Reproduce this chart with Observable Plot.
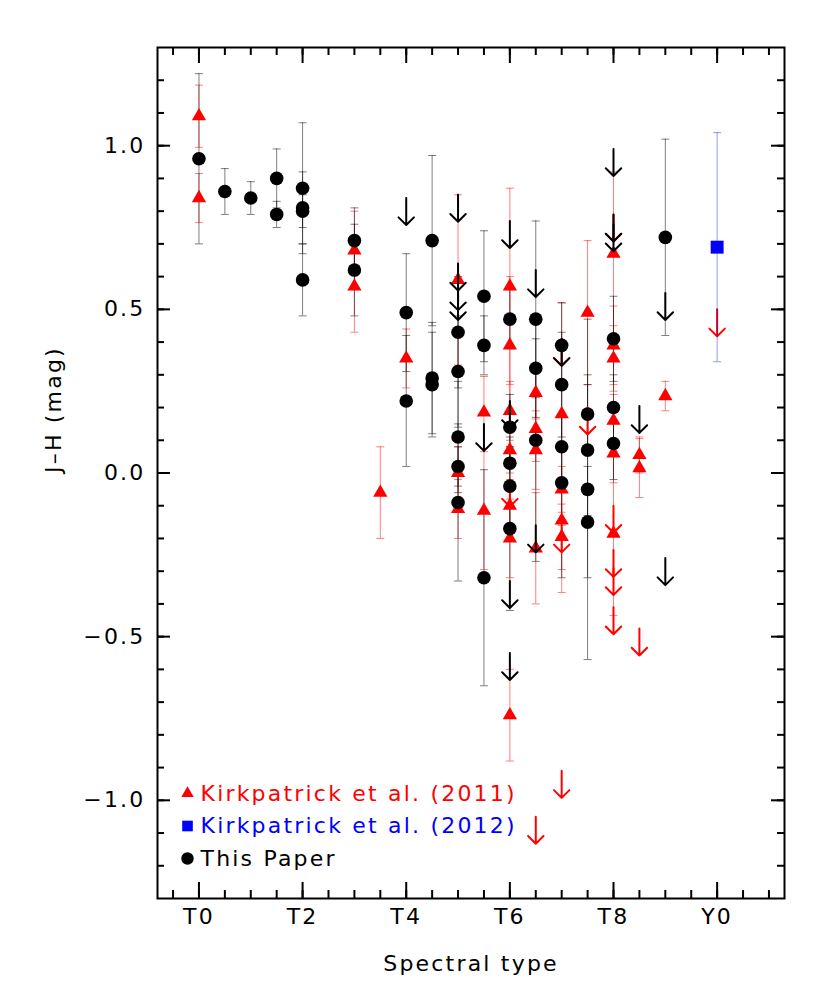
<!DOCTYPE html>
<html><head><meta charset="utf-8">
<script src="https://cdn.jsdelivr.net/npm/d3@7"></script>
<script src="https://cdn.jsdelivr.net/npm/@observablehq/plot@0.6"></script>
<style>body{margin:0;background:#fff}</style>
</head><body><div id="chart"></div>
<script>
// Axis tick values and labels
const xTickValues = [0, 2, 4, 6, 8, 10];
const xTickLabels = ["T0", "T2", "T4", "T6", "T8", "Y0"];
const yTickValues = [-1, -0.5, 0, 0.5, 1];
const yTickLabels = ["\u22121.0", "\u22120.5", "0.0", "0.5", "1.0"];

// This Paper (black circles): spectral type (T0 = 0, Y0 = 10), J-H, error
const tpType = [0, 0.5, 1, 1.5, 1.5, 2, 2, 2, 2, 3, 3, 4, 4, 4.5, 4.5, 4.5,
  5, 5, 5, 5, 5, 5.5, 5.5, 5.5, 6, 6, 6, 6, 6, 6.5, 6.5, 6.5,
  7, 7, 7, 7, 7.5, 7.5, 7.5, 7.5, 8, 8, 8, 9];
const tpJH = [0.96, 0.86, 0.84, 0.90, 0.79, 0.87, 0.81, 0.80, 0.59, 0.71, 0.62, 0.49, 0.22, 0.71, 0.29, 0.27,
  0.43, 0.31, 0.11, 0.02, -0.09, 0.54, 0.39, -0.32, 0.47, 0.14, 0.03, -0.04, -0.17, 0.47, 0.32, 0.10,
  0.39, 0.27, 0.08, -0.03, 0.18, 0.07, -0.05, -0.15, 0.41, 0.20, 0.09, 0.72];
const tpErr = [0.26, 0.07, 0.05, 0.09, 0.04, 0.20, 0.11, 0.05, 0.11, 0.10, 0.14, 0.18, 0.20, 0.26, 0.17, 0.16,
  0.17, 0.17, 0.17, 0.06, 0.24, 0.20, 0.09, 0.33, 0.09, 0.10, 0.08, 0.12, 0.25, 0.30, 0.09, 0.37,
  0.13, 0.16, 0.10, 0.29, 0.12, 0.20, 0.52, 0.17, 0.13, 0.10, 0.11, 0.30];

// This Paper upper limits (black arrows)
const tpLimType = [4, 5, 5, 5, 5, 5.5, 6, 6, 6, 6, 6.5, 6.5, 7, 8, 8, 8, 8.5, 9, 9];
const tpLimJH = [0.84, 0.85, 0.64, 0.58, 0.55, 0.15, 0.77, 0.22, -0.33, -0.55, 0.62, -0.16, 0.41, 0.99, 0.79, 0.76, 0.205, 0.55, -0.26];

// Kirkpatrick et al. (2011) (red triangles)
const k11Type = [0, 0, 3, 3, 3.5, 4, 5, 5, 5, 5.5, 5.5,
  6, 6, 6, 6, 6, 6, 6, 6.5, 6.5, 6.5, 6.5, 7, 7, 7, 7, 7.5,
  8, 8, 8, 8, 8, 8, 8.5, 8.5, 9];
const k11JH = [1.09, 0.84, 0.68, 0.57, -0.06, 0.35, 0.59, 0.00, -0.11, 0.185, -0.115,
  0.57, 0.39, 0.19, 0.07, -0.10, -0.20, -0.74, 0.245, 0.135, 0.07, -0.23, 0.18, -0.05, -0.145, -0.195, 0.49,
  0.67, 0.39, 0.35, 0.16, 0.06, -0.185, 0.055, 0.015, 0.235];
const k11Err = [0.095, 0.075, 0.12, 0.14, 0.14, 0.09, 0.26, 0.08, 0.09, 0.11, 0.18,
  0.30, 0.21, 0.09, 0.07, 0.08, 0.12, 0.14, 0.08, 0.10, 0.12, 0.17, 0.34, 0.07, 0.22, 0.10, 0.22,
  0.25, 0.12, 0.10, 0.08, 0.09, 0.25, 0.055, 0.09, 0.045];

// Kirkpatrick et al. (2011) upper limits (red arrows)
const k11LimType = [6, 6.5, 7, 7, 7, 7.5, 8, 8, 8, 8, 8, 8.5, 10];
const k11LimJH = [-0.02, -1.05, 0.41, -0.16, -0.91, 0.20, 0.79, -0.10, -0.235, -0.29, -0.41, -0.475, 0.50];

// Kirkpatrick et al. (2012) (blue square)
const k12Type = [10];
const k12JH = [0.69];
const k12Err = [0.35];

// Legend
const legendLabels = ["Kirkpatrick et al. (2011)", "Kirkpatrick et al. (2012)", "This Paper"];
const legendColors = ["#ff0000", "#0000ff", "#000000"];
const legendSymbols = ["triangle", "square", "circle"];

const tp = tpType.map((t, i) => ({t, v: tpJH[i], e: tpErr[i]}));
const tpLim = tpLimType.map((t, i) => ({t, v: tpLimJH[i]}));
const k11 = k11Type.map((t, i) => ({t, v: k11JH[i], e: k11Err[i]}));
const k11Lim = k11LimType.map((t, i) => ({t, v: k11LimJH[i]}));
const k12 = k12Type.map((t, i) => ({t, v: k12JH[i], e: k12Err[i]}));

const W = 830, H = 998, mL = 157, mR = 46, mT = 47, mB = 100;
const iw = W - mL - mR, ih = H - mT - mB;

const hline = {draw(ctx, size) { const r = Math.sqrt(size / Math.PI); ctx.moveTo(-r, 0); ctx.lineTo(r, 0); }};

function errbars(data, color, op) {
  return [
    Plot.ruleX(data, {x: "t", y1: d => d.v - d.e, y2: d => d.v + d.e, stroke: color, strokeOpacity: op, strokeWidth: 1}),
    Plot.dot(data, {x: "t", y: d => d.v + d.e, symbol: hline, r: 4, stroke: color, strokeOpacity: op, strokeWidth: 1}),
    Plot.dot(data, {x: "t", y: d => d.v - d.e, symbol: hline, r: 4, stroke: color, strokeOpacity: op, strokeWidth: 1})
  ];
}
function arrows(data, color) {
  return Plot.vector(data, {x: "t", y: "v", length: 27, rotate: 180, anchor: "start", stroke: color, strokeWidth: 2, r: 5});
}

const xMinor = d3.range(-0.5, 11.01, 0.5);
const yMinor = d3.range(-1.2, 1.201, 0.1).map(v => Math.round(v * 10) / 10);

const legendMarks = legendLabels.flatMap((lab, i) => [
  Plot.dot([lab], {frameAnchor: "bottom-left", dx: 30, dy: -105 + i * 32.5, symbol: legendSymbols[i],
    r: legendSymbols[i] === "triangle" ? 4.6 : legendSymbols[i] === "square" ? 6 : 6.2, fill: legendColors[i]}),
  Plot.text([lab], {frameAnchor: "bottom-left", dx: 43, dy: -105 + i * 32.5, text: d => d, textAnchor: "start",
    lineAnchor: "middle", fill: legendColors[i]})
]);

const chart = Plot.plot({
  width: W, height: H,
  marginLeft: mL, marginRight: mR, marginTop: mT, marginBottom: mB,
  style: {fontFamily: "DejaVu Sans, sans-serif", fontSize: "22px", letterSpacing: "2.2px", background: "#fff"},
  x: {domain: [-0.8, 11.3]},
  y: {domain: [-1.3, 1.3]},
  marks: [
    ...errbars(k11, "#ff0000", 0.5),
    ...errbars(tp, "#000000", 0.5),
    Plot.dot(k11, {x: "t", y: "v", symbol: "triangle", r: 5.3, fill: "#ff0000"}),
    arrows(k11Lim, "#ff0000"),
    Plot.dot(tp, {x: "t", y: "v", symbol: "circle", r: 6.8, fill: "#000000"}),
    arrows(tpLim, "#000000"),
    ...errbars(k12, "#0000ff", 0.4),
    Plot.dot(k12, {x: "t", y: "v", symbol: "square", r: 7.3, fill: "#0000ff"}),
    // ticks (inside, mirrored)
    Plot.ruleX(xMinor, {x: d => d, insetTop: ih - 8, stroke: "black", strokeWidth: 2}),
    Plot.ruleX(xMinor, {x: d => d, insetBottom: ih - 8, stroke: "black", strokeWidth: 2}),
    Plot.ruleX(xTickValues, {x: d => d, insetTop: ih - 16, stroke: "black", strokeWidth: 2}),
    Plot.ruleX(xTickValues, {x: d => d, insetBottom: ih - 16, stroke: "black", strokeWidth: 2}),
    Plot.ruleY(yMinor, {y: d => d, insetRight: iw - 7, stroke: "black", strokeWidth: 2}),
    Plot.ruleY(yMinor, {y: d => d, insetLeft: iw - 7, stroke: "black", strokeWidth: 2}),
    Plot.ruleY(yTickValues, {y: d => d, insetRight: iw - 13, stroke: "black", strokeWidth: 2}),
    Plot.ruleY(yTickValues, {y: d => d, insetLeft: iw - 13, stroke: "black", strokeWidth: 2}),
    Plot.frame({stroke: "black", strokeWidth: 2}),
    Plot.axisX({ticks: xTickValues, tickFormat: d => xTickLabels[xTickValues.indexOf(d)], tickSize: 0, tickPadding: 10, label: null, fill: "black"}),
    Plot.axisY({ticks: yTickValues, tickFormat: d => yTickLabels[yTickValues.indexOf(d)], tickSize: 0, tickPadding: 12, label: null, fill: "black"}),
    Plot.text(["Spectral type"], {frameAnchor: "bottom", dy: 65, text: d => d, lineAnchor: "middle", fill: "black"}),
    Plot.text(["J\u2013H (mag)"], {frameAnchor: "left", dx: -104, rotate: -90, text: d => d, lineAnchor: "middle", fill: "black"}),
    ...legendMarks
  ]
});
document.getElementById("chart").appendChild(chart);
</script>
</body></html>
